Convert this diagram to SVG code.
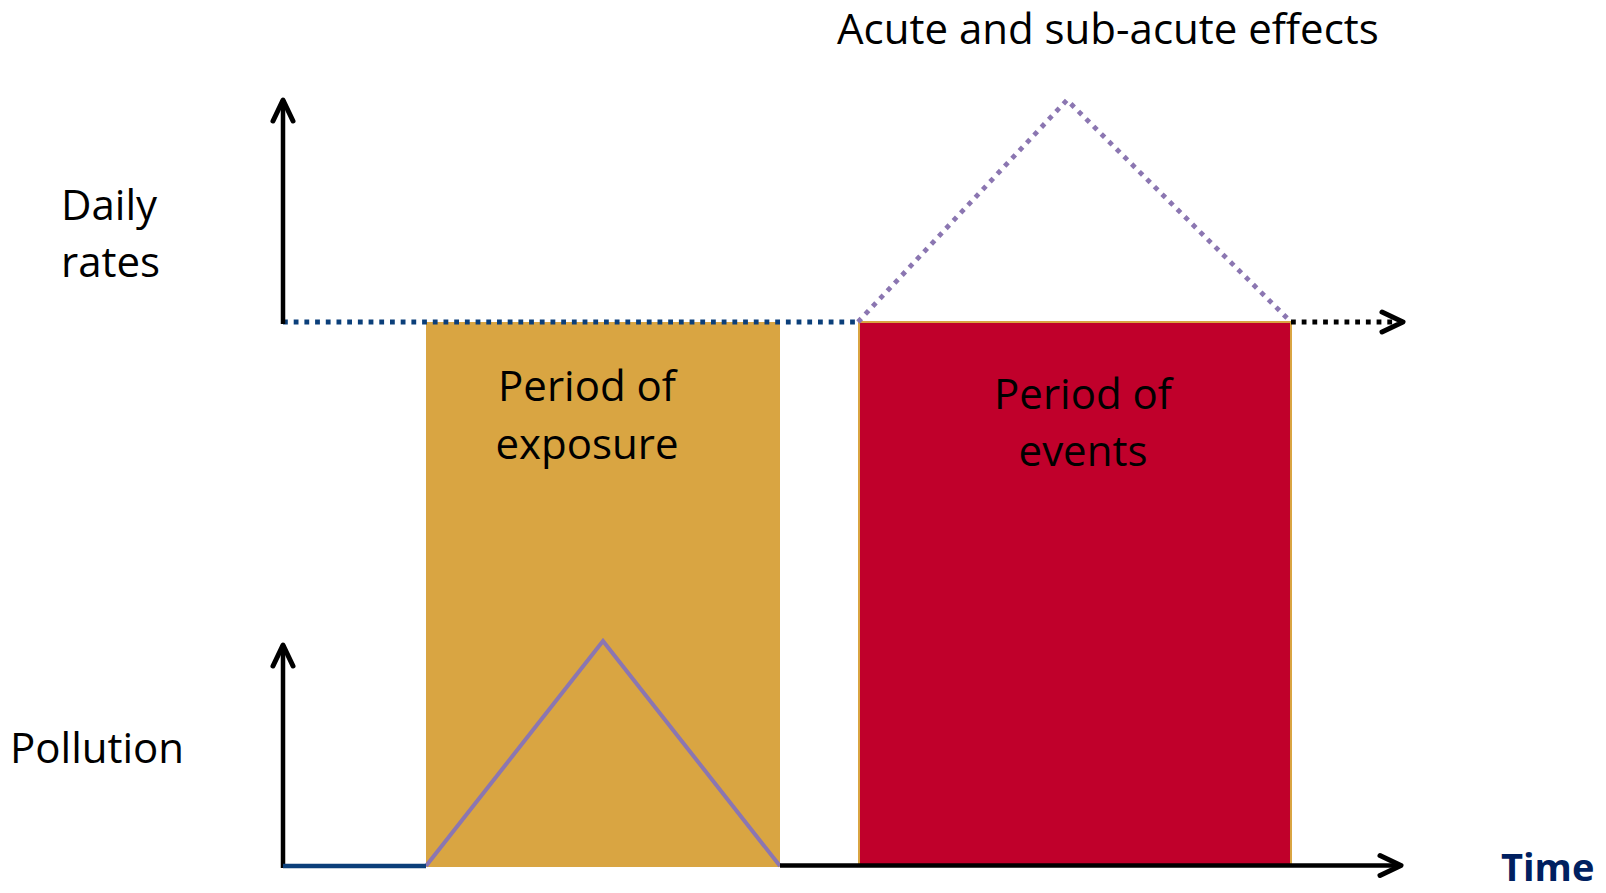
<svg xmlns="http://www.w3.org/2000/svg" width="1606" height="893" viewBox="0 0 1606 893">
<style>
  text { font-family: "Open Sans", "Liberation Sans", sans-serif; font-size: 42px; fill: #000; }
  .mid { text-anchor: middle; }
  .axis { stroke: #000; stroke-width: 4.5; fill: none; }
  .dots { stroke-width: 4.8; stroke-dasharray: 4.8 5.9; fill: none; }
  .purple { stroke: #8B76B1; fill: none; }
</style>
<defs>
  <marker id="chev" markerUnits="userSpaceOnUse" viewBox="-30 -15 40 30" markerWidth="40" markerHeight="30" refX="0" refY="0" orient="auto" overflow="visible">
    <path d="M-21,-10 L0,0 L-21,10" fill="none" stroke="#000" stroke-width="5" stroke-linecap="round" stroke-linejoin="round" stroke-dasharray="none"/>
  </marker>
</defs>
<rect width="1606" height="893" fill="#fff"/>

<g id="exposure">
  <rect x="426" y="322" width="354" height="545" fill="#D9A542"/>
  <text class="mid" x="587" y="401">Period of</text>
  <text class="mid" x="587" y="459">exposure</text>
</g>
<g id="events">
  <rect x="859" y="322" width="432" height="543" fill="#C0002B" stroke="#D9A542" stroke-width="2"/>
  <text class="mid" x="1083" y="409">Period of</text>
  <text class="mid" x="1083" y="466">events</text>
</g>

<g id="labels">
  <text x="837" y="44">Acute and sub-acute effects</text>
  <text x="61" y="220">Daily</text>
  <text x="61" y="277">rates</text>
  <text x="10" y="763">Pollution</text>
  <text x="1501" y="881" style="font-weight:bold;fill:#002060;font-size:38px">Time</text>
</g>

<g id="connectors">
  <polyline class="purple" stroke-width="4" points="426,866 603,641 780,866"/>
  <polyline class="purple dots" stroke-linecap="butt" points="858,322 1067,100 1291,322"/>
  <line class="dots" stroke="#0B3F7A" x1="283" y1="322" x2="858" y2="322"/>
  <line class="dots" stroke="#000" x1="1291" y1="322" x2="1403" y2="322" marker-end="url(#chev)"/>
  <line class="axis" x1="283" y1="324" x2="283" y2="100" marker-end="url(#chev)"/>
  <line class="axis" x1="283" y1="868" x2="283" y2="645" marker-end="url(#chev)"/>
  <line stroke="#0B3F7A" stroke-width="4.5" x1="283" y1="866" x2="426" y2="866"/>
  <line class="axis" x1="780" y1="865.5" x2="1401" y2="865.5" marker-end="url(#chev)"/>
</g>
</svg>
